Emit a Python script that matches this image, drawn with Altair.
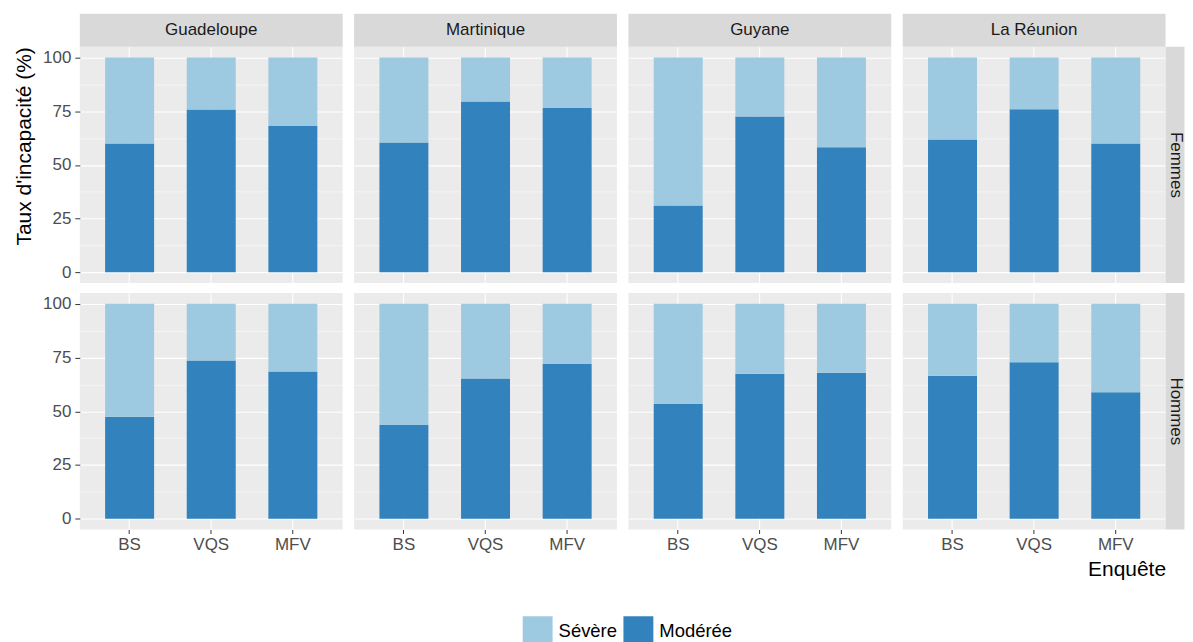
import altair as alt
import pandas as pd

regions = ["Guadeloupe", "Martinique", "Guyane", "La Réunion"]
sexes = ["Femmes", "Hommes"]
enquetes = ["BS", "VQS", "MFV"]
types = ["Sévère", "Modérée"]
colors = ["#9ECAE1", "#3182BD"]

# values per region (rows) and survey (BS, VQS, MFV)
moderee_femmes = [[60.0, 75.8, 68.1], [60.4, 79.5, 76.5], [31.1, 72.5, 58.2], [61.8, 75.9, 60.0]]
severe_femmes = [[40.0, 24.2, 31.9], [39.6, 20.5, 23.5], [68.9, 27.5, 41.8], [38.2, 24.1, 40.0]]
moderee_hommes = [[47.4, 73.6, 68.5], [43.6, 65.2, 72.0], [53.4, 67.5, 67.9], [66.5, 72.8, 58.9]]
severe_hommes = [[52.6, 26.4, 31.5], [56.4, 34.8, 28.0], [46.6, 32.5, 32.1], [33.5, 27.2, 41.1]]

y_ticks = [0, 12.5, 25, 37.5, 50, 62.5, 75, 87.5, 100]

rows = []
for sexe, mod, sev in [("Femmes", moderee_femmes, severe_femmes), ("Hommes", moderee_hommes, severe_hommes)]:
    for i, reg in enumerate(regions):
        for j, enq in enumerate(enquetes):
            rows.append({"region": reg, "sexe": sexe, "enquete": enq, "type": "Modérée", "valeur": mod[i][j]})
            rows.append({"region": reg, "sexe": sexe, "enquete": enq, "type": "Sévère", "valeur": sev[i][j]})
df = pd.DataFrame(rows)

W = 263.5
H = 237
STRIP = 33
RSTRIP = 19
FONT = "Liberation Sans"

base = alt.Chart(df)

major = "datum.value % 25 === 0"


def panel(region, sexe, top, left, bottom, right):
    d = base.transform_filter((alt.datum.region == region) & (alt.datum.sexe == sexe))
    xkw = dict(labels=bottom, ticks=bottom, domain=False, grid=True, gridColor="white",
               gridWidth=1.1, bandPosition=0.5, labelAngle=0, labelFontSize=17,
               labelColor="#4D4D4D", tickColor="#333333", tickSize=4, labelPadding=3,
               labelFont=FONT)
    if bottom and right:
        xkw.update(title="Enquête", titleAnchor="end", titleFontSize=21, titleFontWeight="normal",
                   titleColor="black", titlePadding=6, titleFont=FONT)
    else:
        xkw.update(title=None)
    ykw = dict(values=y_ticks, labelExpr="datum.value % 25 === 0 ? datum.label : ''",
               labels=left, ticks=left, domain=False, grid=True, gridColor="white",
               gridWidth={"condition": {"test": major, "value": 1.1}, "value": 0.5},
               tickOpacity={"condition": {"test": major, "value": 1}, "value": 0},
               labelFontSize=17, labelColor="#4D4D4D", tickColor="#333333", tickSize=5,
               labelPadding=4, labelFont=FONT)
    if left and top:
        ykw.update(title="Taux d'incapacité (%)", titleAnchor="end", titleFontSize=21,
                   titleFontWeight="normal", titleColor="black", titlePadding=8, titleFont=FONT)
    else:
        ykw.update(title=None)

    bars = d.transform_calculate(rang="datum.type === 'Modérée' ? 0 : 1").mark_bar().encode(
        x=alt.X("enquete:N", sort=enquetes,
                scale=alt.Scale(domain=enquetes, paddingInner=0.4, paddingOuter=0.31),
                axis=alt.Axis(**xkw)),
        y=alt.Y("valeur:Q", stack="zero",
                scale=alt.Scale(domain=[-5, 105], nice=False, zero=False),
                axis=alt.Axis(**ykw)),
        color=alt.Color("type:N", scale=alt.Scale(domain=types, range=colors),
                        legend=alt.Legend(title=None, orient="none", legendX=444, legendY=571,
                                          direction="horizontal", symbolType="square",
                                          symbolSize=900, symbolStrokeWidth=0, labelFontSize=18.5,
                                          labelOffset=6, columnPadding=6, labelFont=FONT,
                                          labelColor="black", symbolOpacity=1)),
        order=alt.Order("rang:Q"),
    )
    layers = [bars]
    one = d.transform_filter((alt.datum.enquete == "BS") & (alt.datum.type == "Modérée"))
    if top:
        layers.append(one.mark_rect(color="#D9D9D9").encode(
            x=alt.value(0), x2=alt.value(W), y=alt.value(-STRIP), y2=alt.value(0)))
        layers.append(one.mark_text(fontSize=17, color="#1A1A1A", font=FONT).encode(
            x=alt.value(W / 2), y=alt.value(-STRIP / 2), text="region:N"))
    if right:
        layers.append(one.mark_rect(color="#D9D9D9").encode(
            x=alt.value(W), x2=alt.value(W + RSTRIP), y=alt.value(0), y2=alt.value(H)))
        layers.append(one.mark_text(fontSize=17, color="#1A1A1A", angle=90, font=FONT).encode(
            x=alt.value(W + RSTRIP / 2 + 1), y=alt.value(H / 2), text="sexe:N"))
    return alt.layer(*layers).properties(width=W, height=H)


cells = []
for si, sexe in enumerate(sexes):
    for ri, reg in enumerate(regions):
        cells.append(panel(reg, sexe, top=(si == 0), left=(ri == 0),
                           bottom=(si == len(sexes) - 1), right=(ri == len(regions) - 1)))

chart = alt.concat(*cells, columns=4, spacing={"row": 10, "column": 11}).properties(
    padding={"left": 5, "top": 5, "right": 0, "bottom": 0}
).configure_view(fill="#EBEBEB", stroke=None)

chart.save("out.html", embed_options={"renderer": "svg", "actions": False})
